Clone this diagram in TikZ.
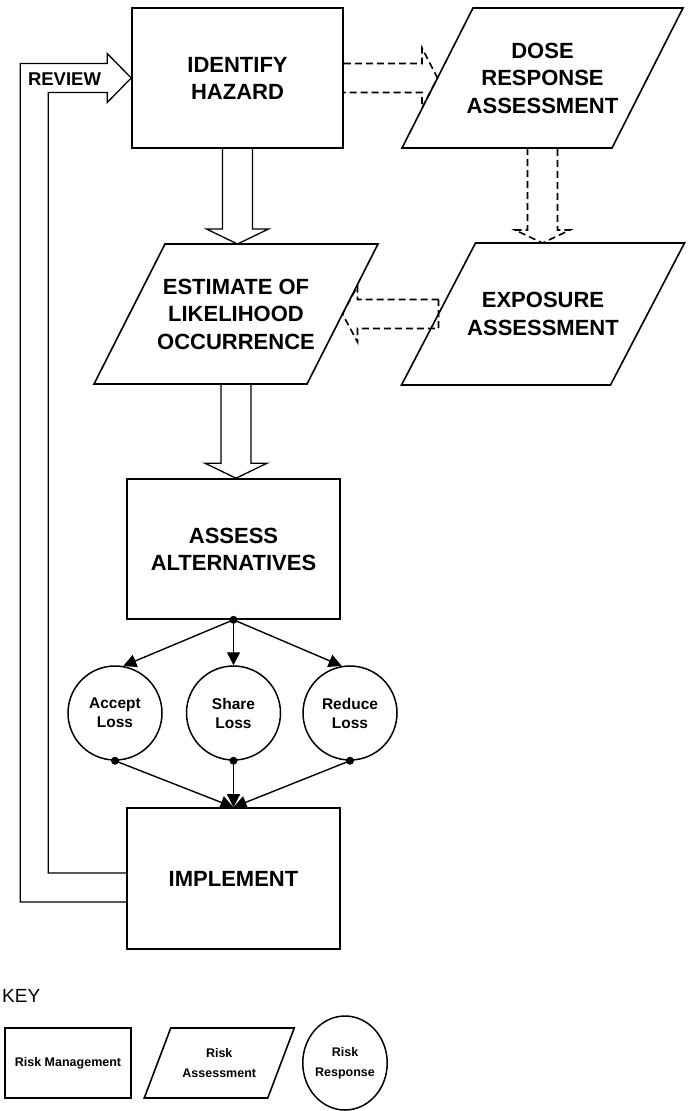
\documentclass[tikz,border=0pt]{standalone}
\usepackage{fontspec}
\setmainfont{Liberation Sans}
\usetikzlibrary{calc,arrows.meta,shapes.geometric}
% block arrow pointing down: #1 style, #2 from, #3 to, #4 shaft half width, #5 head half width, #6 head length, #7 closing
\newcommand\blkdown[7]{\draw[#1] let \p1=(#2),\p2=(#3) in (\x1-#4,\y1) -- (\x1-#4,\y2+#6) -- (\x1-#5,\y2+#6) -- (\x1,\y2) -- (\x1+#5,\y2+#6) -- (\x1+#4,\y2+#6) -- (\x1+#4,\y1) #7;}
\newcommand\blkright[7]{\draw[#1] let \p1=(#2),\p2=(#3) in (\x1,\y1+#4) -- (\x2-#6,\y1+#4) -- (\x2-#6,\y1+#5) -- (\x2,\y1) -- (\x2-#6,\y1-#5) -- (\x2-#6,\y1-#4) -- (\x1,\y1-#4) #7;}
\newcommand\blkleft[7]{\draw[#1] let \p1=(#2),\p2=(#3) in (\x1,\y1+#4) -- (\x2+#6,\y1+#4) -- (\x2+#6,\y1+#5) -- (\x2,\y1) -- (\x2+#6,\y1-#5) -- (\x2+#6,\y1-#4) -- (\x1,\y1-#4) #7;}
% parallelogram: #1 text style, #2 name, #3 cx, #4 cy, #5 half width, #6 half height, #7 half slant, #8 text
\newcommand\para[8]{%
  \draw[pline] (#3-#5+#7,#4-#6) -- (#3+#5+#7,#4-#6) -- (#3+#5-#7,#4+#6) -- (#3-#5-#7,#4+#6) -- cycle;
  \node[#1] (#2) at (#3,#4) {#8};
  \coordinate (#2-l) at (#3-#5,#4);
  \coordinate (#2-r) at (#3+#5,#4);
  \coordinate (#2-t) at (#3,#4-#6);
  \coordinate (#2-b) at (#3,#4+#6);}
\begin{document}
\begin{tikzpicture}[x=1pt,y=-1pt,
  box/.style={draw, line width=1.6pt, minimum width=211pt, minimum height=140pt, inner sep=0pt, align=center, font=\bfseries\fontsize{22}{27}\selectfont},
  pline/.style={line width=1.6pt, line join=miter},
  ptext/.style={align=center, inner sep=0pt, font=\bfseries\fontsize{22}{27.5}\selectfont},
  resp/.style={draw, circle, line width=1.5pt, minimum size=94pt, inner sep=0pt, align=center, font=\bfseries\fontsize{15.5}{19}\selectfont},
  conn/.style={line width=1.4pt},
  hollow/.style={line width=1.3pt, line join=miter},
  dashconn/.style={line width=1.6pt, dash pattern=on 7pt off 4pt},
  tipa/.style={-{Triangle[length=13pt,width=13pt]}},
  keytext/.style={align=center, inner sep=0pt, font=\bfseries\fontsize{12.5}{20}\selectfont},
]
\useasboundingbox (0,0) rectangle (691,1111);

% main boxes
\node[box] (ih) at (237.5,78) {IDENTIFY\\HAZARD};
\node[box, minimum width=213pt] (aa) at (233.5,549) {ASSESS\\ALTERNATIVES};
\node[box, minimum width=213pt, minimum height=141pt] (imp) at (233.5,878.5) {IMPLEMENT};

% parallelograms
\para{ptext}{dose}{542.5}{78}{105}{70}{35.5}{DOSE\\RESPONSE\\ASSESSMENT}
\para{ptext}{exp}{543}{314}{104.5}{71}{37}{EXPOSURE\\ASSESSMENT}
\para{ptext}{est}{236}{314}{106.5}{70}{35.5}{ESTIMATE OF\\LIKELIHOOD\\OCCURRENCE}

% hollow block arrows
\blkdown{hollow}{ih.south}{est-t}{15pt}{31pt}{15pt}{}
\blkdown{hollow}{est-b}{aa.north}{15pt}{31pt}{15pt}{}
% dashed block arrows
\blkright{dashconn}{ih.east}{dose-l}{14.5pt}{30pt}{15.5pt}{}
\blkdown{dashconn}{dose-b}{exp-t}{15pt}{27.5pt}{13pt}{}
\blkleft{dashconn}{exp-l}{est-r}{14.5pt}{28pt}{15pt}{-- cycle}

% risk responses
\node[resp] (acc) at (115,713) {Accept\\Loss};
\node[resp] (sha) at (233.5,713) {Share\\Loss};
\node[resp] (red) at (350,713) {Reduce\\Loss};

\coordinate (d0) at (aa.south);
\draw[conn,tipa] (d0) -- (acc.80);
\draw[conn,tipa] (d0) -- (sha.north);
\draw[conn,tipa] (d0) -- (red.100);
\fill (d0) circle (4pt);
\draw[conn,tipa] (acc.south) -- (imp.north);
\draw[conn,tipa] (sha.south) -- (imp.north);
\draw[conn,tipa] (red.south) -- (imp.north);
\fill (acc.south) circle (4pt);
\fill (sha.south) circle (4pt);
\fill (red.south) circle (4pt);

% review loop
\draw[hollow] ($(imp.west)+(0,23.5)$) -- ++(-106,0) |- ($(ih.west)+(-24,-14.5)$)
  -- ++(0,-10) -- (ih.west) -- ++(-24,24.5) -- ++(0,-10)
  -| ($(imp.west)+(-78,-5.5)$) -- ($(imp.west)+(0,-5.5)$);
\node[font=\bfseries\fontsize{18.5}{22}\selectfont, inner sep=0pt] (rev) at (64.5,79) {REVIEW};

% key
\node[anchor=west, inner sep=0pt, font=\fontsize{19}{22}\selectfont] (key) at (2,995.5) {KEY};
\node[draw, line width=1.5pt, minimum width=126pt, minimum height=70pt, inner sep=0pt, keytext] (km) at (68,1063) {Risk Management};
\para{keytext}{ka}{219.25}{1063}{61.75}{35}{13.25}{Risk\\Assessment}
\node[draw, ellipse, line width=1.5pt, minimum width=72pt, minimum height=94pt, inner sep=0pt, keytext] (kr) at (345,1063) {Risk\\Response};
\end{tikzpicture}
\end{document}
